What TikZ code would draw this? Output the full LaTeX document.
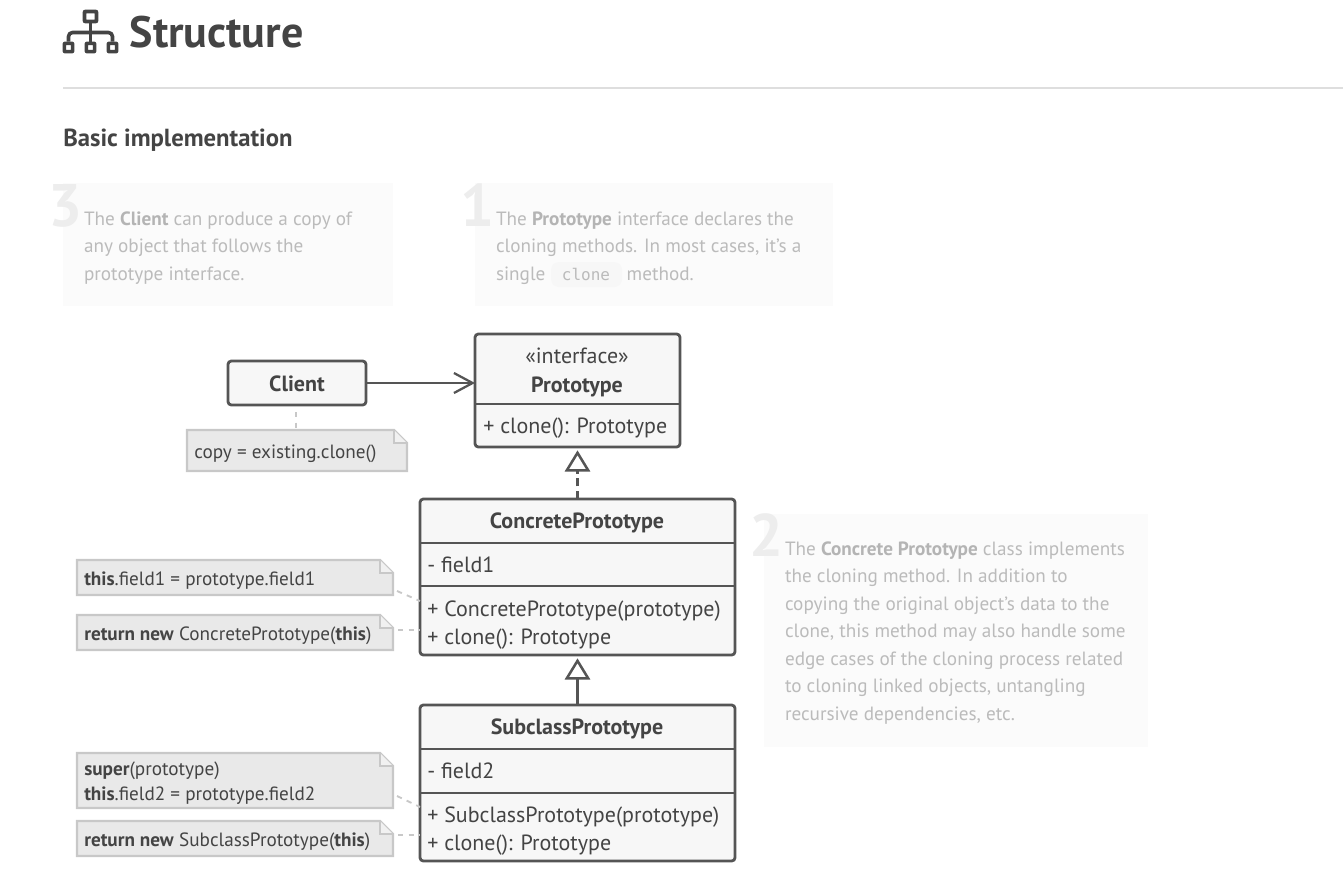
\documentclass[tikz,border=0pt]{standalone}
\usepackage{fontspec}
\setmainfont{PT Sans}
\newfontfamily\codefont{DejaVu Sans Mono}
\usetikzlibrary{arrows.meta,calc}
\definecolor{ink}{HTML}{444444}
\definecolor{classline}{HTML}{555555}
\definecolor{classfill}{HTML}{F7F7F7}
\definecolor{notefill}{HTML}{E9E9E9}
\definecolor{noteline}{HTML}{C8C8C8}
\definecolor{panelfill}{HTML}{FBFBFB}
\definecolor{paneltext}{HTML}{BBBBBB}
\definecolor{panelbold}{HTML}{B4B4B4}
\definecolor{numcol}{HTML}{EDEDED}
\newcommand{\pf}[2]{\fontsize{\dimexpr#1pt*3/4\relax}{\dimexpr#2pt*3/4\relax}\selectfont}
\newcommand{\pb}[1]{{\bfseries\color{panelbold}#1}}
% \notebox{name}{x1}{y1}{x2}{y2}
\newcommand{\notebox}[5]{%
  \path[notepath] (#2,#3) -- (#4-13,#3) -- (#4,#3+13) -- (#4,#5) -- (#2,#5) -- cycle;
  \path[notefold] (#4-13,#3) -- (#4-13,#3+13) -- (#4,#3+13);
  \node[anchorbox,minimum width=#4*0.75pt-#2*0.75pt,minimum height=#5*0.75pt-#3*0.75pt] (#1) at ({(#2+#4)/2},{(#3+#5)/2}) {};
}
\tikzset{
  x=0.75pt,y=-0.75pt,
  notepath/.style={fill=notefill,draw=noteline,line width=2.25pt*0.75,line join=miter},
  notefold/.style={draw=noteline,line width=1.5pt,fill=classfill!60!notefill},
  anchorbox/.style={inner sep=0pt,outer sep=0pt},
  classbox/.style={draw=classline,fill=classfill,line width=2.1pt,rounded corners=2.5pt,inner sep=0pt,outer sep=0pt},
  divider/.style={draw=classline,line width=2.1pt},
  panel/.style={fill=panelfill,inner sep=0pt,outer sep=0pt},
  paneltxt/.style={text=paneltext,anchor=north west,inner sep=0pt,outer sep=0pt,align=left,font=\pf{19.2}{27.5}},
  bignum/.style={text=numcol,anchor=base west,inner sep=0pt,font=\pf{60}{60}\bfseries},
  classname/.style={text=ink,anchor=base,inner sep=0pt,font=\pf{22}{24}\bfseries},
  classtxt/.style={text=ink,anchor=base west,inner sep=0pt,font=\pf{22}{27.5}},
  notetxt/.style={text=ink,anchor=base west,inner sep=0pt,font=\pf{19.2}{24.5}},
  notetwo/.style={text=ink,anchor=north west,inner sep=0pt,align=left,font=\pf{19.2}{24.5}},
  assoc/.style={draw=classline,line width=2.15pt,-{Straight Barb[length=14pt,width=15pt,line width=1.7pt]}},
  inherit/.style={draw=classline,line width=2.2pt,shorten >=2.5pt,-{Triangle[open,length=16pt,width=19pt,line width=1.9pt,fill=white]}},
  notelink/.style={draw=noteline,line width=1.4pt,dash pattern=on 4pt off 4pt},
  icon/.style={draw=ink,line width=2.7pt,rounded corners=0.4pt,line join=round},
}
\begin{document}
\begin{tikzpicture}
\useasboundingbox[fill=white] (0,0) rectangle (1343,875);

% header
\node[icon,minimum width=9pt,minimum height=7.5pt,inner sep=0pt] (icontop) at (90.5,16.5) {};
\node[icon,minimum width=6.2pt,minimum height=6.2pt,inner sep=0pt] (iconl) at (68.5,47.5) {};
\node[icon,minimum width=6.2pt,minimum height=6.2pt,inner sep=0pt] (iconm) at (90.5,47.5) {};
\node[icon,minimum width=6.2pt,minimum height=6.2pt,inner sep=0pt] (iconr) at (112.5,47.5) {};
\draw[icon] (icontop.south) -- (iconm.north);
\draw[icon,rounded corners=3pt] (iconl.north) -- (iconl.north |- 0,32.5) -- (iconr.north |- 0,32.5) -- (iconr.north);
\node[text=ink,anchor=base west,inner sep=0pt,font=\pf{44}{48}\bfseries] (title) at (129.5,47) {Structure};
\draw[draw=black!13,line width=0.9pt] (63,88) coordinate (rulea) -- (1343,88) coordinate (ruleb);
\node[text=ink,anchor=base west,inner sep=0pt,font=\pf{24.7}{28}\bfseries] (subtitle) at (63,146) {Basic implementation};

% annotation panels
\path[panel] (63,183) rectangle (393,306);
\path[panel] (475,183) rectangle (833,306);
\path[panel] (764,514) rectangle (1148,747);
\path[fill=black!3,rounded corners=6pt] (551,262) rectangle (622,287);
\node[bignum] (num3) at (48,226) {3};
\node[bignum] (num1) at (460,226) {1};
\node[bignum] (num2) at (749,556) {2};
\node[paneltxt] (txt3) at (84,211.5) {The \pb{Client} can produce a copy of\\any object that follows the\\prototype interface.};
\node[paneltxt] (txt1) at (496,211.5) {The \pb{Prototype} interface declares the\\cloning methods. In most cases, it’s a\\single\hspace{61pt}method.};
\node[text=paneltext,anchor=base,inner sep=0pt,font=\pf{16}{20}\codefont] (txt1code) at (586,280) {clone};
\node[paneltxt] (txt2) at (785,541.5) {The \pb{Concrete Prototype} class implements\\the cloning method. In addition to\\copying the original object’s data to the\\clone, this method may also handle some\\edge cases of the cloning process related\\to cloning linked objects, untangling\\recursive dependencies, etc.};

% class boxes
\node[classbox,minimum width=103.5pt,minimum height=33pt] (client) at (297,383) {};
\node[classname] (clientname) at (297,391) {Client};

\node[classbox,minimum width=153.75pt,minimum height=84.75pt] (proto) at (577.5,390.5) {};
\draw[divider] (proto.west |- 0,404) -- (proto.east |- 0,404);
\node[text=ink,anchor=base,inner sep=0pt,font=\pf{22}{24}] (protost) at (577,363) {«interface»};
\node[classname] (protoname) at (577,392) {Prototype};
\node[classtxt] (protoop) at (483,433) {+ clone(): Prototype};

\node[classbox,minimum width=236.25pt,minimum height=117pt] (conc) at (577.5,577) {};
\draw[divider] (conc.west |- 0,543) -- (conc.east |- 0,543);
\draw[divider] (conc.west |- 0,586) -- (conc.east |- 0,586);
\node[classname] (concname) at (577,528) {ConcretePrototype};
\node[classtxt] (concf) at (427,572) {- field1};
\node[classtxt,align=left,anchor=north west] (concop) at (427,601) {+ ConcretePrototype(prototype)\\+ clone(): Prototype};

\node[classbox,minimum width=236.25pt,minimum height=117pt] (sub) at (577.5,783) {};
\draw[divider] (sub.west |- 0,749) -- (sub.east |- 0,749);
\draw[divider] (sub.west |- 0,793) -- (sub.east |- 0,793);
\node[classname] (subname) at (577,734.5) {SubclassPrototype};
\node[classtxt] (subf) at (427,778.5) {- field2};
\node[classtxt,align=left,anchor=north west] (subop) at (427,807) {+ SubclassPrototype(prototype)\\+ clone(): Prototype};

% notes
\notebox{ncopy}{187}{430}{407}{471}
\node[notetxt] (ncopyt) at (194,458) {copy = existing.clone()};
\notebox{nf1}{77}{560}{393}{595}
\node[notetxt] (nf1t) at (84,585) {\textbf{this}.field1 = prototype.field1};
\notebox{nr1}{77}{615}{393}{650}
\node[notetxt] (nr1t) at (84,640) {\textbf{return new} ConcretePrototype(\textbf{this})};
\notebox{nf2}{77}{753}{393}{808}
\node[notetwo] (nf2t) at (84,762) {\textbf{super}(prototype)\\\textbf{this}.field2 = prototype.field2};
\notebox{nr2}{77}{821}{393}{856}
\node[notetxt] (nr2t) at (84,846) {\textbf{return new} SubclassPrototype(\textbf{this})};

% connectors
\draw[assoc] (client.east) -- (proto.west |- client.east);
\draw[inherit,dash pattern=on 6pt off 3.5pt] (conc.north) -- (proto.south);
\draw[inherit] (sub.north) -- (conc.south);
\coordinate (cn) at (296,412);
\draw[notelink] (cn) -- (ncopy.north -| cn);
\coordinate (a1) at (397,591);
\coordinate (b1) at (420,601);
\draw[notelink] (a1) -- (b1);
\coordinate (a2) at (398,630);
\coordinate (b2) at (420,630);
\draw[notelink] (a2) -- (b2);
\coordinate (a3) at (397,796);
\coordinate (b3) at (420,807);
\draw[notelink] (a3) -- (b3);
\coordinate (a4) at (398,835);
\coordinate (b4) at (420,835);
\draw[notelink] (a4) -- (b4);
\end{tikzpicture}
\end{document}
